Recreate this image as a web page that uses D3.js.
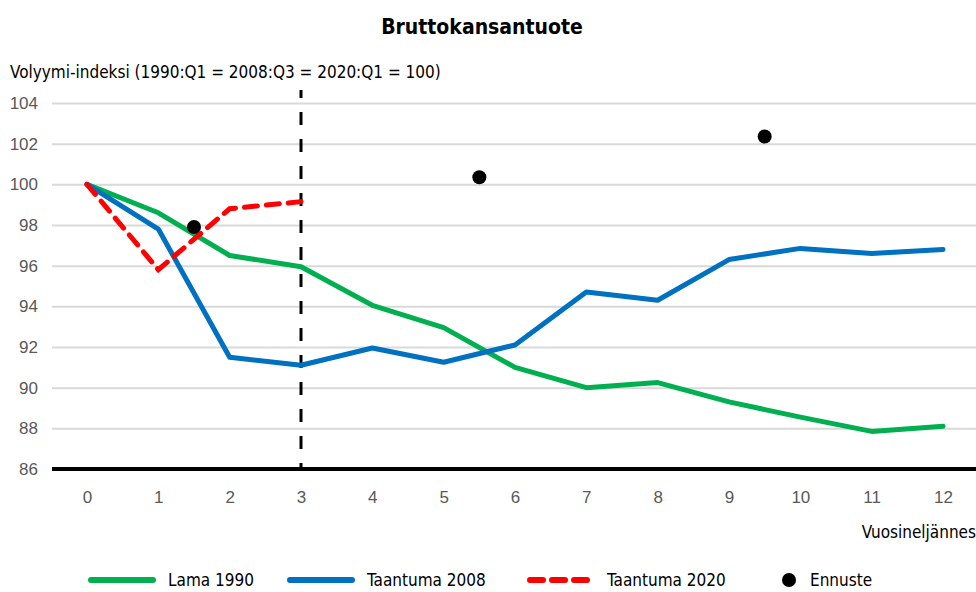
<!DOCTYPE html>
<html>
<head>
<meta charset="utf-8">
<script src="https://cdn.jsdelivr.net/npm/d3@7"></script>
<style>
  body { margin: 0; background: #fff; }
  svg { font-family: 'Liberation Sans Narrow', 'DejaVu Sans Condensed', 'Roboto', sans-serif; }
</style>
</head>
<body>
<div id="chart"></div>
<script>
let quarters = d3.range(0, 13)
let lama1990 = [100, 98.6, 96.5, 95.95, 94.05, 92.95, 91.0, 90.0, 90.25, 89.3, 88.55, 87.85, 88.1]
let taantuma2008 = [100, 97.8, 91.5, 91.1, 91.95, 91.25, 92.1, 94.7, 94.3, 96.3, 96.85, 96.6, 96.8]
let taantuma2020 = [100, 95.8, 98.8, 99.15]
let ennusteX = [1.5, 5.5, 9.5]
let ennusteY = [97.9, 100.35, 102.35]
let yTicks = [86, 88, 90, 92, 94, 96, 98, 100, 102, 104]

let width = 976
let height = 592
let margin = { top: 103, left: 87, right: 33, bottom: 123 }

let svg = d3.select('#chart')
  .append('svg')
  .attr('width', width)
  .attr('height', height)

let x = d3.scaleLinear().domain([0, 12]).range([margin.left, width - margin.right])
let y = d3.scaleLinear().domain([86, 104]).range([height - margin.bottom, margin.top])

// title
svg.append('text')
  .attr('x', 482)
  .attr('y', 34)
  .attr('text-anchor', 'middle')
  .attr('font-size', 21)
  .attr('font-weight', 'bold')
  .attr('fill', '#000')
  .text('Bruttokansantuote')

svg.append('text')
  .attr('x', 10)
  .attr('y', 78)
  .attr('font-size', 17)
  .attr('fill', '#000')
  .text('Volyymi-indeksi (1990:Q1 = 2008:Q3 = 2020:Q1 = 100)')

// gridlines
let yAxis = d3.axisLeft(y)
  .tickValues(yTicks)
  .tickSize(-(width - 52))
  .tickPadding(14)

svg.append('g')
  .attr('class', 'y-axis')
  .attr('transform', 'translate(52,0)')
  .call(yAxis)
  .call(g => g.select('.domain').remove())
  .call(g => g.selectAll('.tick line').attr('stroke', '#d9d9d9').attr('stroke-width', 2))
  .call(g => g.selectAll('.tick text').attr('font-size', 17).attr('fill', '#595959').attr('font-family', null))

svg.selectAll('.y-axis .tick')
  .filter(d => d === 86)
  .select('line')
  .attr('stroke', 'none')

let xAxis = d3.axisBottom(x)
  .tickValues(quarters)
  .tickSize(0)
  .tickPadding(22)

svg.append('g')
  .attr('class', 'x-axis')
  .attr('transform', `translate(0,${y(86)})`)
  .call(xAxis)
  .call(g => g.select('.domain').remove())
  .call(g => g.selectAll('.tick text').attr('font-size', 17).attr('fill', '#595959').attr('font-family', null))

svg.append('text')
  .attr('x', 976)
  .attr('y', 538)
  .attr('text-anchor', 'end')
  .attr('font-size', 17)
  .attr('fill', '#000')
  .text('Vuosineljännes')

// vertical dashed line at quarter 3
svg.append('line')
  .attr('x1', x(3))
  .attr('x2', x(3))
  .attr('y1', 90)
  .attr('y2', y(86))
  .attr('stroke', '#000')
  .attr('stroke-width', 3)
  .attr('stroke-dasharray', '13,14')
  .attr('stroke-dashoffset', 5)

// base axis line
svg.append('line')
  .attr('x1', 52)
  .attr('x2', 976)
  .attr('y1', y(86))
  .attr('y2', y(86))
  .attr('stroke', '#000')
  .attr('stroke-width', 4)

let line = d3.line()
  .x((d, i) => x(i))
  .y(d => y(d))

svg.append('path')
  .datum(lama1990)
  .attr('d', line)
  .attr('fill', 'none')
  .attr('stroke', '#00b050')
  .attr('stroke-width', 5)
  .attr('stroke-linejoin', 'round')
  .attr('stroke-linecap', 'round')

svg.append('path')
  .datum(taantuma2008)
  .attr('d', line)
  .attr('fill', 'none')
  .attr('stroke', '#0070c0')
  .attr('stroke-width', 5)
  .attr('stroke-linejoin', 'round')
  .attr('stroke-linecap', 'round')

svg.append('path')
  .datum(taantuma2020)
  .attr('d', line)
  .attr('fill', 'none')
  .attr('stroke', '#ff0000')
  .attr('stroke-width', 5)
  .attr('stroke-dasharray', '13,9')
  .attr('stroke-linecap', 'round')

svg.selectAll('.ennuste')
  .data(ennusteX)
  .enter()
  .append('circle')
  .attr('class', 'ennuste')
  .attr('cx', d => x(d))
  .attr('cy', (d, i) => y(ennusteY[i]))
  .attr('r', 7)
  .attr('fill', '#000')

// legend
let legend = [
  { name: 'Lama 1990', color: '#00b050', dash: null, x: 88 },
  { name: 'Taantuma 2008', color: '#0070c0', dash: null, x: 287 },
  { name: 'Taantuma 2020', color: '#ff0000', dash: '13,9', x: 527 }
]

let lg = svg.append('g')
lg.selectAll('line')
  .data(legend)
  .enter()
  .append('line')
  .attr('x1', d => d.x + 3)
  .attr('x2', d => d.x + 65)
  .attr('y1', 580)
  .attr('y2', 580)
  .attr('stroke', d => d.color)
  .attr('stroke-width', 6)
  .attr('stroke-linecap', 'round')
  .attr('stroke-dasharray', d => d.dash)

lg.selectAll('text')
  .data(legend)
  .enter()
  .append('text')
  .attr('x', d => d.x + 80)
  .attr('y', 586)
  .attr('font-size', 17)
  .attr('fill', '#000')
  .text(d => d.name)

lg.append('circle')
  .attr('cx', 789)
  .attr('cy', 580)
  .attr('r', 7)
  .attr('fill', '#000')

lg.append('text')
  .attr('x', 810)
  .attr('y', 586)
  .attr('font-size', 17)
  .attr('fill', '#000')
  .text('Ennuste')
</script>
</body>
</html>
